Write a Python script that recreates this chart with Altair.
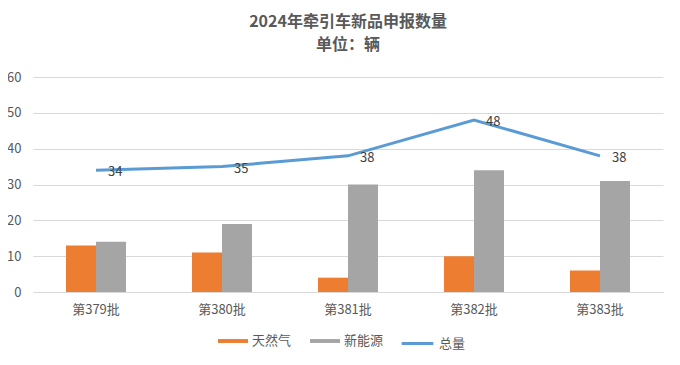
import altair as alt
import pandas as pd

batches = ["第379批", "第380批", "第381批", "第382批", "第383批"]
gas = [13, 11, 4, 10, 6]
ev = [14, 19, 30, 34, 31]
total = [34, 35, 38, 48, 38]

bar_df = pd.DataFrame({
    "batch": batches * 2,
    "type": ["天然气"] * 5 + ["新能源"] * 5,
    "value": gas + ev,
})
line_df = pd.DataFrame({"batch": batches, "series": ["总量"] * 5, "value": total})

FONT = "Noto Sans CJK SC"
TXT = "#595959"


def xenc():
    return alt.X("batch:N", sort=batches, title=None,
                 scale=alt.Scale(paddingInner=0.524, paddingOuter=0.262),
                 axis=alt.Axis(labelAngle=0, ticks=False, domainColor="#D9D9D9",
                               labelFont=FONT, labelFontSize=13, labelColor=TXT,
                               labelPadding=11, grid=False))


def yenc():
    return alt.Y("value:Q", title=None,
                 scale=alt.Scale(domain=[0, 60], nice=False),
                 axis=alt.Axis(values=[0, 10, 20, 30, 40, 50, 60], ticks=False,
                               domain=False, labelOverlap=False,
                               gridColor="#D9D9D9", labelFont=FONT, labelFontSize=13,
                               labelColor=TXT, labelPadding=12))


bars = alt.Chart(bar_df).mark_bar().encode(
    x=xenc(),
    xOffset=alt.XOffset("type:N", sort=["天然气", "新能源"], scale=alt.Scale(paddingInner=0)),
    y=yenc(),
    color=alt.Color("type:N", sort=["天然气", "新能源"],
                    scale=alt.Scale(domain=["天然气", "新能源"], range=["#ED7D31", "#A5A5A5"]),
                    legend=alt.Legend(title=None, orient="none", legendX=185, legendY=249,
                                      direction="horizontal",
                                      symbolType="M-1,-0.13H1V0.13H-1Z", symbolSize=900,
                                      symbolStrokeWidth=0, labelFont=FONT, labelFontSize=13,
                                      labelColor=TXT, columnPadding=18, labelOffset=4)),
)

line = alt.Chart(line_df).mark_line(strokeWidth=3).encode(
    x=xenc(),
    y=yenc(),
    stroke=alt.Stroke("series:N",
                      scale=alt.Scale(domain=["总量"], range=["#5B9BD5"]),
                      legend=alt.Legend(title=None, orient="none", legendX=367, legendY=249,
                                        direction="horizontal", symbolType="stroke",
                                        symbolSize=1000, symbolStrokeWidth=3,
                                        labelFont=FONT, labelFontSize=13, labelColor=TXT,
                                        labelOffset=4)),
)

labels = alt.Chart(line_df).mark_text(align="left", baseline="middle", dx=12, dy=2,
                                      font=FONT, fontSize=13, color="#404040").encode(
    x=xenc(),
    y=yenc(),
    text=alt.Text("value:Q"),
)

chart = alt.layer(bars, line, labels).resolve_scale(color="independent").properties(
    width=630, height=215,
    background="white",
    autosize=alt.AutoSizeParams(type="none"),
    padding={"left": 25, "top": 69, "right": 8, "bottom": 63},
    title=alt.TitleParams(text="2024年牵引车新品申报数量", subtitle="单位：辆",
                          anchor="middle", font=FONT, fontSize=16, fontWeight="bold",
                          color=TXT, subtitleFont=FONT, subtitleFontSize=16,
                          subtitleFontWeight="bold", subtitleColor=TXT,
                          subtitlePadding=7, offset=18),
).configure_view(stroke="transparent", strokeWidth=0).configure_axisX(grid=False)

chart.save("out.html", embed_options={"renderer": "svg", "actions": False})
